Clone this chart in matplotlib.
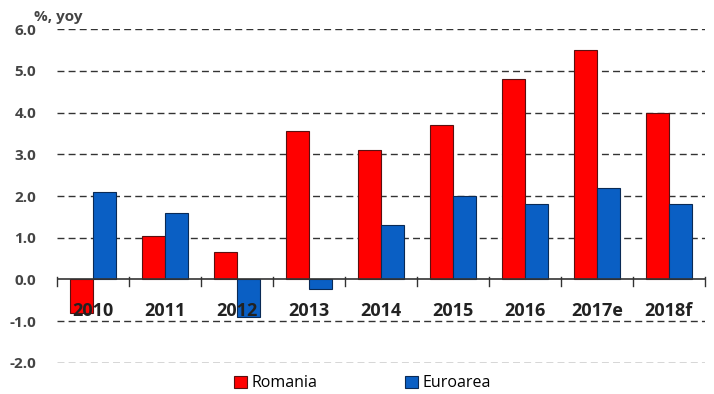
import matplotlib.pyplot as plt
import numpy as np

years = ["2010", "2011", "2012", "2013", "2014", "2015", "2016", "2017e", "2018f"]
romania = [-0.8, 1.05, 0.65, 3.55, 3.1, 3.7, 4.8, 5.5, 4.0]
euroarea = [2.1, 1.6, -0.9, -0.22, 1.3, 2.0, 1.8, 2.2, 1.8]
yticks = [-2.0, -1.0, 0.0, 1.0, 2.0, 3.0, 4.0, 5.0, 6.0]

plt.rcParams['font.family'] = ['Open Sans', 'DejaVu Sans']

fig = plt.figure(figsize=(7.14, 3.94), dpi=100)
ax = fig.add_axes([0.080, 0.079, 0.907, 0.847])

x = np.arange(len(years))
w = 0.32
ax.bar(x - w / 2, romania, w, color="#ff0000", edgecolor="#5a1010", linewidth=0.8,
       label="Romania", zorder=3)
ax.bar(x + w / 2, euroarea, w, color="#0a5fc4", edgecolor="#0a2a55", linewidth=0.8,
       label="Euroarea", zorder=3)

ax.set_xlim(-0.5, len(years) - 0.5)
ax.set_ylim(-2.0, 6.0)
ax.set_yticks(yticks)
ax.set_yticklabels(["%.1f" % v for v in yticks], fontsize=11, fontweight="bold", color="#444444")
ax.tick_params(axis="y", length=0, pad=15)
ax.set_xticks([])

for v in yticks:
    if v != 0:
        ax.axhline(v, color="#333333", linestyle=(0, (5, 3)), linewidth=1.0, zorder=1)
ax.axhline(0, color="#333333", linewidth=1.2, zorder=4)

# category boundary ticks on the zero line
for b in np.arange(-0.5, len(years), 1.0):
    ax.plot([b, b], [-0.15, 0.05], color="#333333", linewidth=1.0, zorder=4, clip_on=False)

for i, yr in enumerate(years):
    ax.text(i, -0.75, yr, ha="center", va="center", fontsize=13, fontweight="bold",
            color="#222222", zorder=5)

for s in ax.spines.values():
    s.set_visible(False)

fig.text(0.048, 0.958, "%, yoy", fontsize=11, fontweight="bold", color="#444444",
         ha="left", va="center")

fig.legend(loc="lower center", bbox_to_anchor=(0.508, -0.03), ncol=2, frameon=False,
           fontsize=11.5, handlelength=0.8, handleheight=0.8, columnspacing=5.5,
           handletextpad=0.3)

fig.savefig("out.png", dpi=100)
